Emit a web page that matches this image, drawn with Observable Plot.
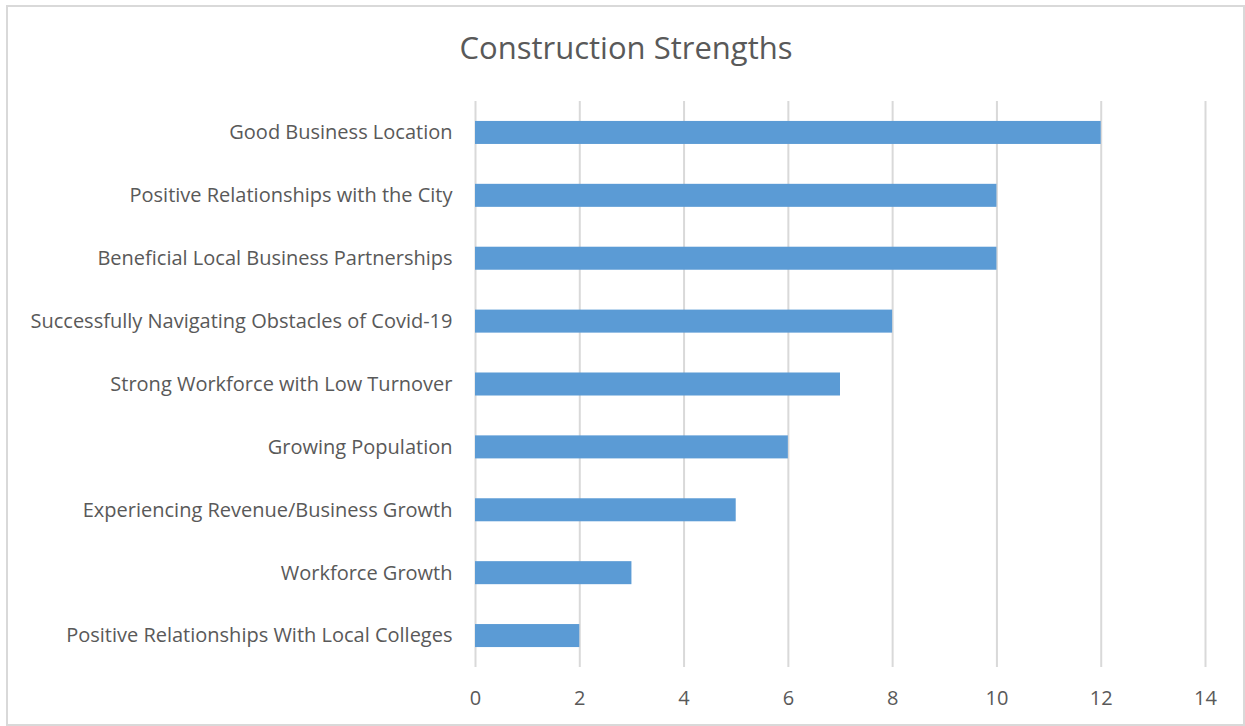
<!DOCTYPE html>
<html><head><meta charset="utf-8">
<script src="https://cdn.jsdelivr.net/npm/d3@7"></script>
<script src="https://cdn.jsdelivr.net/npm/@observablehq/plot@0.6"></script>
<style>
html,body{margin:0;padding:0;background:#fff;width:1245px;height:726px;overflow:hidden;}
#frame{position:absolute;left:6px;top:5px;width:1235px;height:717px;border:2px solid #d9d9d9;box-sizing:content-box;}
#title{position:absolute;left:0;top:27px;width:1252px;text-align:center;font-family:"Open Sans",sans-serif;font-size:31px;color:#595959;line-height:40px;}
#chart{position:absolute;left:0;top:80px;}
</style></head>
<body>
<div id="frame"></div>
<div id="title">Construction Strengths</div>
<div id="chart"></div>
<script>
const categories = [
  "Good Business Location",
  "Positive Relationships with the City",
  "Beneficial Local Business Partnerships",
  "Successfully Navigating Obstacles of Covid-19",
  "Strong Workforce with Low Turnover",
  "Growing Population",
  "Experiencing Revenue/Business Growth",
  "Workforce Growth",
  "Positive Relationships With Local Colleges"
];
const values = [12, 10, 10, 8, 7, 6, 5, 3, 2];
const xTicks = [0, 2, 4, 6, 8, 10, 12, 14];

const data = categories.map((c, i) => ({category: c, value: values[i]}));

const chart = Plot.plot({
  width: 1245,
  height: 646,
  marginLeft: 475,
  marginRight: 40,
  marginTop: 21,
  marginBottom: 59,
  style: {fontFamily: "'Open Sans', sans-serif", fontSize: "20px", color: "#595959", background: "transparent"},
  x: {domain: [0, 14], ticks: xTicks, tickSize: 0, tickPadding: 23, label: null},
  y: {domain: categories, paddingInner: 0.634, paddingOuter: 0.317, round: false, tickSize: 0, tickPadding: 23, label: null},
  marks: [
    Plot.ruleX(xTicks, {stroke: "#d9d9d9", strokeWidth: 2}),
    Plot.barX(data, {x: "value", y: "category", fill: "#5b9bd5"})
  ]
});
document.getElementById("chart").appendChild(chart);
</script>
</body></html>
